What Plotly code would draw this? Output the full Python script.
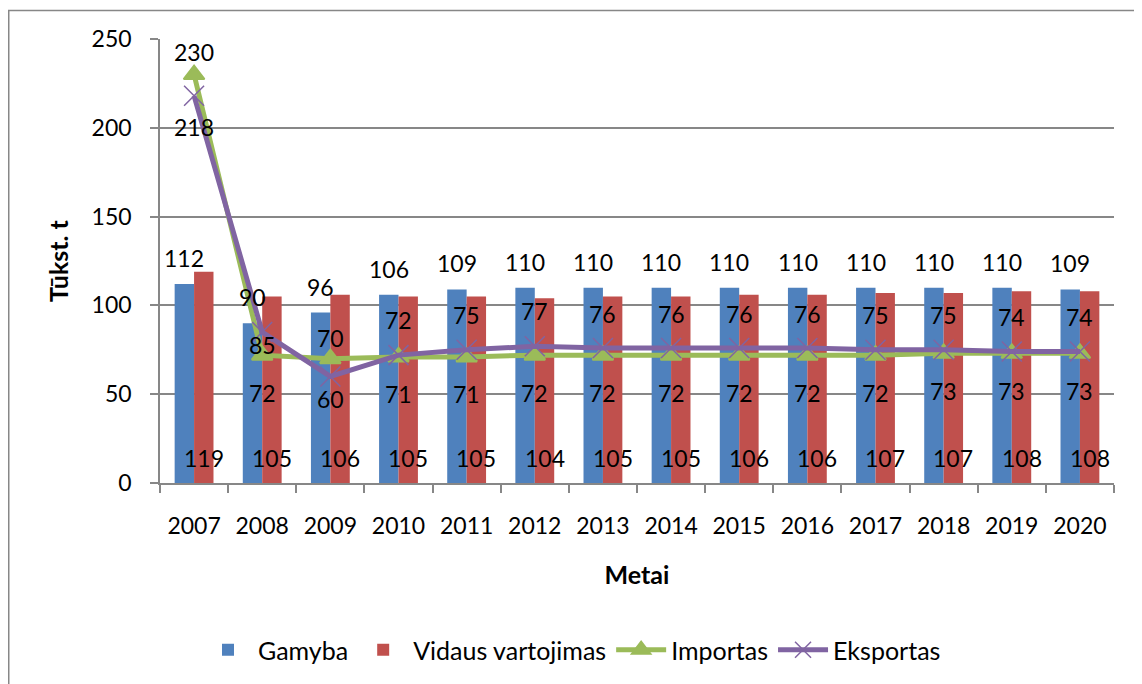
import plotly.graph_objects as go

years = ["2007", "2008", "2009", "2010", "2011", "2012", "2013",
         "2014", "2015", "2016", "2017", "2018", "2019", "2020"]
gamyba = [112, 90, 96, 106, 109, 110, 110, 110, 110, 110, 110, 110, 110, 109]
vidaus = [119, 105, 106, 105, 105, 104, 105, 105, 106, 106, 107, 107, 108, 108]
importas = [230, 72, 70, 71, 71, 72, 72, 72, 72, 72, 72, 73, 73, 73]
eksportas = [218, 85, 60, 72, 75, 77, 76, 76, 76, 76, 75, 75, 74, 74]

# pixel offsets of the line-series labels (upper = larger value, lower = smaller)
upper_shift = [23, -13, 21, 35, 35, 35, 34, 34, 34, 34, 35, 35, 35, 35]
lower_shift = [-31, -38, -23, -37, -37, -38, -38, -38, -38, -38, -38, -38, -38, -38]

BLUE, RED, GREEN, PURPLE = "#4F81BD", "#C0504D", "#9BBB59", "#8064A2"
GRID = "#878787"
FONT = "Lato"
FS = 23

OFF = 8  # page body margin
W, H = 1142 - OFF, 684 - OFF
ML, MT = 160 - OFF, 39 - OFF
MR, MB = 28, 201
PW, PH = W - ML - MR, H - MT - MB


def px_x(p):
    return (p - OFF - ML) / PW


def px_y(p):
    return (H - MB - (p - OFF)) / PH


fig = go.Figure()
fig.add_trace(go.Bar(name="Gamyba", x=years, y=gamyba, marker_color=BLUE,
                     marker_line_width=0))
fig.add_trace(go.Bar(name="Vidaus vartojimas", x=years, y=vidaus, marker_color=RED,
                     marker_line_width=0))
fig.add_trace(go.Scatter(name="Importas", x=years, y=importas, mode="lines+markers",
                         line=dict(color=GREEN, width=5),
                         marker=dict(symbol="triangle-up", size=18, color=GREEN,
                                     line=dict(width=2, color=GREEN))))
fig.add_trace(go.Scatter(name="Eksportas", x=years, y=eksportas, mode="lines+markers",
                         line=dict(color=PURPLE, width=5),
                         marker=dict(symbol="x-thin", size=20,
                                     line=dict(width=1.5, color=PURPLE))))

bar_half = PW / len(years) * (1 - 0.43) / 4
ann = []
for i, yr in enumerate(years):
    ann.append(dict(x=i, y=gamyba[i], text=str(gamyba[i]), xref="x", yref="y",
                    showarrow=False, xshift=-bar_half, yshift=26, yanchor="middle"))
    ann.append(dict(x=i, y=0, text=str(vidaus[i]), xref="x", yref="y",
                    showarrow=False, xshift=bar_half, yshift=25, yanchor="middle"))
    hi, lo = max(importas[i], eksportas[i]), min(importas[i], eksportas[i])
    ann.append(dict(x=i, y=hi, text=str(hi), xref="x", yref="y",
                    showarrow=False, yshift=upper_shift[i], yanchor="middle"))
    ann.append(dict(x=i, y=lo, text=str(lo), xref="x", yref="y",
                    showarrow=False, yshift=lower_shift[i], yanchor="middle"))

# outer chart frame
shapes = [dict(type="rect", xref="paper", yref="paper",
               x0=px_x(8.75), x1=px_x(1160), y0=px_y(720), y1=px_y(10.5),
               line=dict(color=GRID, width=1.5), fillcolor="rgba(0,0,0,0)",
               layer="below")]

fig.update_layout(
    width=W, height=H,
    margin=dict(l=ML, r=MR, t=MT, b=MB, autoexpand=False),
    paper_bgcolor="white", plot_bgcolor="white",
    font=dict(family=FONT, size=FS, color="black"),
    barmode="group", bargap=0.43, bargroupgap=0,
    showlegend=True,
    legend=dict(orientation="h", x=px_x(572), xanchor="center",
                y=px_y(650), yanchor="middle", font=dict(size=25),
                itemwidth=50, traceorder="normal"),
    annotations=ann,
    shapes=shapes,
)
fig.update_xaxes(type="category", range=[-0.5, len(years) - 0.5],
                 showline=True, linecolor=GRID, linewidth=1.5,
                 ticks="outside", ticklen=8, tickcolor=GRID, tickwidth=1.5,
                 tickson="boundaries", showgrid=False, ticklabelstandoff=22,
                 tickangle=0,
                 title=dict(text="<b>Metai</b>", standoff=28, font=dict(size=25)),
                 automargin=False)
fig.update_yaxes(range=[0, 250], dtick=50, showline=True, linecolor=GRID, linewidth=1.5,
                 ticks="outside", ticklen=8, tickcolor=GRID, tickwidth=1.5,
                 showgrid=True, gridcolor=GRID, gridwidth=1.5, zeroline=False,
                 ticklabelstandoff=14,
                 title=dict(text="<b>Tūkst. t</b>", standoff=16, font=dict(size=25)),
                 automargin=False)

fig.write_html("out.html")
